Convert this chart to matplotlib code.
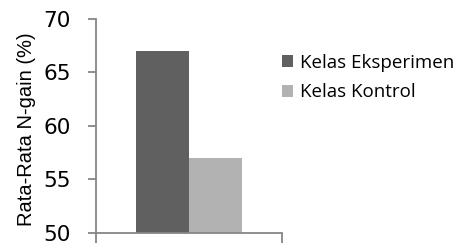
import numpy as np
import matplotlib
matplotlib.use("Agg")
import matplotlib.pyplot as plt

# data
groups = ["Kelas Eksperimen", "Kelas Kontrol"]
values = [67, 57]
colors = ["#606060", "#b2b2b2"]
yticks = [50, 55, 60, 65, 70]

axis_col = "#868686"

fig = plt.figure(figsize=(4.56, 2.46), dpi=100)
ax = fig.add_axes([96 / 456, 13 / 246, 186 / 456, 214 / 246])

w = 0.2875
for i, (g, v, c) in enumerate(zip(groups, values, colors)):
    x = (i - 0.5) * w
    ax.bar(x, v - 50, bottom=50, width=w, color=c, label=g, align="center")

ax.set_xlim(-0.5, 0.5)
ax.set_ylim(50, 70)
ax.set_yticks(yticks)
ax.set_yticklabels([str(t) for t in yticks], fontsize=15.5, family="DejaVu Sans")
ax.set_xticks([-0.5, 0.5])
ax.set_xticklabels(["", ""])

for s in ["top", "right"]:
    ax.spines[s].set_visible(False)
for s in ["left", "bottom"]:
    ax.spines[s].set_color(axis_col)
    ax.spines[s].set_linewidth(1.3)
ax.spines["bottom"].set_zorder(5)

ax.tick_params(axis="y", direction="out", length=6, width=1.3, color=axis_col, pad=12)
ax.tick_params(axis="x", direction="out", length=7, width=1.3, color=axis_col)

ax.set_ylabel("Rata-Rata N-gain (%)", fontsize=14.5, family="Liberation Sans")
ax.yaxis.set_label_coords(-0.32, 0.485)

ax.legend(loc="upper left", bbox_to_anchor=(278 / 456, 1 - 50 / 246),
          bbox_transform=fig.transFigure, frameon=False,
          prop={"family": "Open Sans", "size": 13.5},
          handlelength=0.6, handleheight=0.6, handletextpad=0.4,
          labelspacing=0.62, borderaxespad=0.0, borderpad=0.2)

fig.savefig("out.png", dpi=100)
